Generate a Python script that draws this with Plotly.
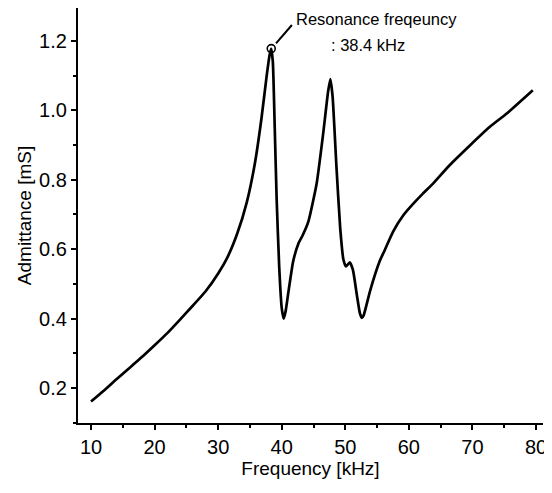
import plotly.graph_objects as go

# Data
freq_khz = [10.0, 12.0, 14.0, 16.0, 18.0, 20.0, 22.0, 24.0, 26.0, 28.0, 30.0, 31.5, 33.0,
            34.5, 35.8, 36.8, 37.6, 38.1, 38.35, 38.6, 38.9, 39.2, 39.6, 40.0, 40.3, 40.6,
            41.0, 41.8, 42.6, 43.3, 44.2, 45.5, 46.5, 47.3, 47.65, 48.0, 48.6, 49.2, 49.7,
            50.1, 50.7, 51.2, 51.8, 52.3, 52.6, 52.9, 53.9, 55.4, 56.2, 57.5, 59.1, 60.7,
            62.2, 63.8, 66.4, 69.6, 72.7, 75.4, 79.5]
admittance_ms = [0.161, 0.192, 0.225, 0.257, 0.289, 0.323, 0.358, 0.397, 0.437, 0.478, 0.530,
                 0.578, 0.645, 0.735, 0.850, 0.975, 1.095, 1.160, 1.178, 1.140, 0.950, 0.745,
                 0.550, 0.430, 0.400, 0.420, 0.470, 0.565, 0.615, 0.640, 0.680, 0.790, 0.930,
                 1.055, 1.090, 1.040, 0.840, 0.660, 0.570, 0.550, 0.562, 0.540, 0.470, 0.415,
                 0.402, 0.410, 0.480, 0.565, 0.597, 0.650, 0.697, 0.731, 0.760, 0.789, 0.842,
                 0.899, 0.952, 0.991, 1.058]
resonance_f = [38.35]
resonance_y = [1.178]
x_ticks = [10, 20, 30, 40, 50, 60, 70, 80]
y_ticks = [0.2, 0.4, 0.6, 0.8, 1.0, 1.2]

FONT = "Liberation Sans, Arial, sans-serif"

fig = go.Figure()
fig.add_trace(go.Scatter(
    x=freq_khz, y=admittance_ms, mode="lines",
    line=dict(color="black", width=2.7, shape="spline", smoothing=0.5),
    hoverinfo="skip", showlegend=False))
fig.add_trace(go.Scatter(
    x=resonance_f, y=resonance_y, mode="markers",
    marker=dict(symbol="circle-open", size=8, color="black", line=dict(width=1.6)),
    hoverinfo="skip", showlegend=False))

# leader line from the circle to the label
fig.add_shape(type="line", xref="x", yref="y",
              x0=39.1, y0=1.193, x1=41.6, y1=1.246,
              line=dict(color="black", width=2))
fig.add_annotation(x=41.9, y=1.262, xref="x", yref="y", text="Resonance freqeuncy",
                   showarrow=False, xanchor="left", yanchor="middle",
                   font=dict(family=FONT, size=16.5, color="black"))
fig.add_annotation(x=47.4, y=1.187, xref="x", yref="y", text=": 38.4 kHz",
                   showarrow=False, xanchor="left", yanchor="middle",
                   font=dict(family=FONT, size=16.5, color="black"))

axis_common = dict(
    showgrid=False, zeroline=False, showline=True, linecolor="black", linewidth=2.2,
    ticks="outside", ticklen=5, tickwidth=1.6, tickcolor="black",
    tickfont=dict(family=FONT, size=20, color="black"), mirror=False,
)

fig.update_xaxes(range=[7.95, 81.1], tickvals=x_ticks, ticktext=[str(v) for v in x_ticks],
                 title=dict(text="Frequency [kHz]", font=dict(family=FONT, size=19, color="black"),
                            standoff=3),
                 minor=dict(dtick=5, tick0=0, ticks="outside", ticklen=3, tickcolor="black"),
                 **axis_common)
fig.update_yaxes(range=[0.099, 1.295], tickvals=y_ticks, ticktext=[f"{v:.1f}" for v in y_ticks],
                 title=dict(text="Admittance [mS]", font=dict(family=FONT, size=19, color="black"),
                            standoff=2),
                 minor=dict(dtick=0.1, tick0=0, ticks="outside", ticklen=3, tickcolor="black"),
                 **axis_common)

# page body has an 8px default margin, so the figure is sized to fit the window
fig.update_layout(
    width=544, height=485, autosize=False,
    margin=dict(l=70, r=9, t=0, b=70, autoexpand=False),
    paper_bgcolor="white", plot_bgcolor="white",
    font=dict(family=FONT, color="black"),
)

fig.write_html("out.html")
